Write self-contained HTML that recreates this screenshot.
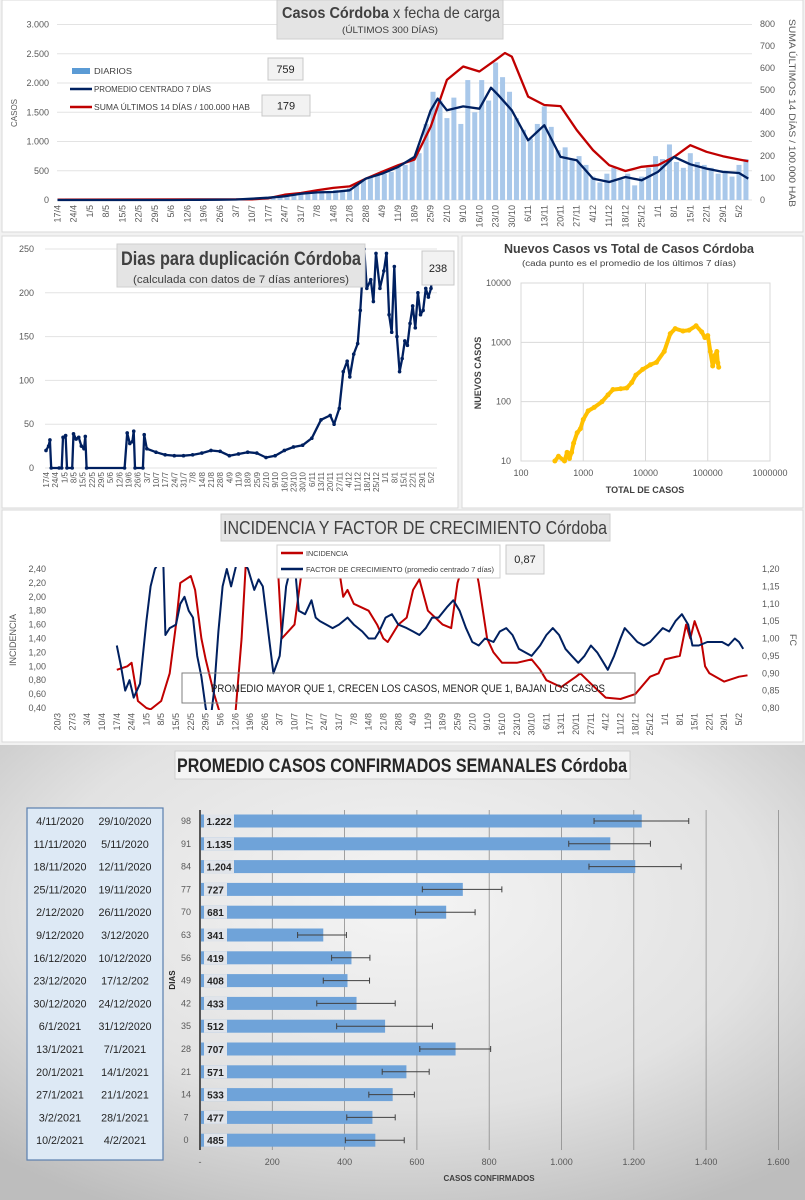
<!DOCTYPE html>
<html><head><meta charset="utf-8">
<style>
html,body{margin:0;padding:0;background:#f2f2f2;}
svg{display:block;font-family:"Liberation Sans Narrow","Liberation Sans",sans-serif;}
</style></head>
<body>
<svg id="root" width="805" height="1200" viewBox="0 0 805 1200" xmlns="http://www.w3.org/2000/svg">
<defs>
<radialGradient id="bg4" cx="50%" cy="35%" r="75%">
<stop offset="0" stop-color="#f4f4f4"/><stop offset="0.6" stop-color="#e2e2e2"/><stop offset="1" stop-color="#bdbdbd"/>
</radialGradient>
<clipPath id="clip1"><rect x="55" y="20" width="700" height="182"/></clipPath>
<clipPath id="clip2"><rect x="40" y="247" width="400" height="223"/></clipPath>
<clipPath id="clip3"><rect x="55" y="567" width="700" height="143"/></clipPath>
</defs>
<rect x="2" y="0" width="801" height="232" fill="#ffffff" stroke="#d9d9d9"/>
<rect x="2" y="236" width="456" height="272" fill="#ffffff" stroke="#d9d9d9"/>
<rect x="462" y="236" width="341" height="272" fill="#ffffff" stroke="#d9d9d9"/>
<rect x="2" y="510" width="801" height="232" fill="#ffffff" stroke="#d9d9d9"/>
<rect x="0" y="745" width="805" height="455" fill="url(#bg4)"/>

<g id="g1"></g><g id="g2"></g><g id="g2b"></g><g id="g3"></g><g id="g4"></g>
</svg>
<script>
// ===== Chart 1 data =====
const c1LeftTicks=[0,500,1000,1500,2000,2500,3000];
const c1LeftTickLabels=["0","500","1.000","1.500","2.000","2.500","3.000"];
const c1RightTicks=[0,100,200,300,400,500,600,700,800];
const c1BarValues=[0,0,0,0,0,0,0,0,0,0,0,0,0,0,0,0,0,0,0,0,0,0,0,0,0,0,10,15,25,30,45,50,70,60,90,110,100,140,160,130,170,150,200,280,340,380,420,450,480,560,600,720,800,1300,1850,1700,1400,1750,1300,2050,1500,2050,1700,2350,2100,1850,1400,1200,1050,1300,1600,1250,850,900,700,750,600,400,300,450,550,350,450,250,400,550,750,700,950,650,550,800,650,600,550,450,500,400,600,700];
const c1AvgDays=[0,7,14,21,28,35,42,49,56,63,70,77,84,91,98,105,112,119,126,133,140,147,154,161,164,168,175,182,187,190,196,203,210,217,224,231,238,245,252,259,266,273,280,287,294,298];
const c1AvgValues=[0,0,0,0,0,0,0,0,2,3,5,8,23,40,63,108,130,137,165,365,450,565,736,1534,1734,1534,1600,1560,1920,1800,1534,1020,1278,736,680,365,308,394,336,480,736,610,536,480,462,365];
const c1SumDays=[0,84,91,98,105,112,119,126,133,140,147,154,161,168,175,182,189,193,196,203,210,217,224,231,238,245,252,259,266,273,280,287,294,298];
const c1SumValues=[2,3,8,24,32,44,55,62,97,128,158,184,333,546,607,584,637,668,652,470,432,427,318,227,158,132,151,158,196,249,219,199,184,176];

// ===== Chart 2 data =====
const c2Ticks=[0,50,100,150,200,250];
const c2Days=[0,2,3,4,10,12,13,15,16,20,21,23,25,27,29,30,31,60,62,64,66,67,68,74,75,77,84,91,98,105,112,119,126,133,140,147,154,161,168,175,182,189,196,203,210,217,220,224,227,230,232,235,238,240,243,245,248,250,252,255,258,260,262,264,266,268,270,272,274,276,278,280,282,284,286,288,290,292,294,296];
const c2Values=[20,25,32,0,0,0,35,37,0,0,39,33,35,25,22,36,0,0,40,28,30,42,0,0,38,22,18,15,14,14,15,17,20,19,14,16,18,17,12,14,20,24,26,34,55,60,50,68,110,122,104,130,142,180,250,205,215,190,245,205,225,245,175,155,230,150,110,125,145,140,165,185,160,200,175,180,205,195,205,238];

// ===== Scatter data =====
const c2bTotal=[350,400,500,550,600,650,700,800,900,1000,1200,1500,2000,2500,3000,4000,5000,6000,7000,9000,12000,15000,20000,25000,30000,40000,50000,65000,80000,90000,100000,110000,120000,130000,140000,145000,150000];
const c2bNew=[10,12,10,14,11,14,20,30,35,50,70,80,100,130,160,165,170,210,280,350,420,460,700,1400,1700,1550,1600,1900,1500,1200,1300,700,400,600,700,450,380];
const c2bXTicks=[100,1000,10000,100000,1000000];
const c2bYTicks=[10,100,1000,10000];

// ===== Chart 3 data =====
const c3LeftTicks=[0.4,0.6,0.8,1.0,1.2,1.4,1.6,1.8,2.0,2.2,2.4];
const c3RightTicks=[0.80,0.85,0.90,0.95,1.00,1.05,1.10,1.15,1.20];
const c3IncDays=[28,33,35,38,42,44,49,53,56,58,63,65,68,70,74,77,84,87,89,95,100,104,106,112,116,130,133,135,137,140,147,151,154,156,161,165,168,171,175,182,186,189,192,197,199,203,206,210,217,224,228,231,238,245,247,252,259,266,273,280,284,287,294,297,299,301,304,306,308,315,322,326];
const c3IncValues=[0.95,1.0,1.05,0.5,0.4,0.38,0.5,0.9,1.6,2.2,2.3,2.1,1.4,1.1,0.6,0.3,0.3,1.4,2.5,2.6,2.6,2.5,1.4,1.6,2.5,2.5,2.4,2.0,2.1,1.9,1.8,1.6,1.4,1.35,1.6,1.7,2.1,2.25,1.8,1.6,1.55,2.2,2.5,2.5,2.2,1.4,1.2,1.05,1.05,1.1,0.95,0.8,0.7,0.85,0.9,0.75,0.55,0.53,0.6,0.85,0.9,1.1,1.15,1.6,1.4,1.65,1.4,1.0,0.9,0.78,0.85,0.87];
const c3FcDays=[28,30,32,34,36,39,42,44,46,47,50,51,53,56,58,60,62,64,66,68,70,72,74,76,78,80,82,84,86,88,90,93,95,97,100,102,105,108,110,112,114,117,120,122,124,127,130,133,137,140,144,147,150,152,155,158,161,165,168,171,174,177,180,184,187,190,193,196,199,202,206,209,212,215,218,221,224,228,231,234,237,240,243,246,249,252,255,258,260,263,266,268,271,274,277,280,283,286,289,292,295,298,300,303,307,311,314,317,320,322,324];
const c3FcValues=[0.98,0.92,0.85,0.88,0.83,0.87,1.05,1.15,1.2,1.21,1.22,1.01,1.03,1.04,1.1,1.12,1.08,1.06,0.95,0.89,0.8,0.75,0.85,1.02,1.15,1.2,1.15,1.2,1.25,1.22,1.2,1.14,1.17,1.15,1.0,0.9,0.95,1.15,1.2,1.22,1.08,1.07,1.11,1.06,1.05,1.04,1.03,1.04,1.06,1.04,1.02,1.0,1.0,1.02,1.06,1.07,1.04,1.03,1.02,1.01,1.03,1.06,1.06,1.09,1.11,1.08,1.03,0.99,0.98,1.0,0.99,1.02,1.03,1.01,0.97,0.96,0.95,0.98,1.01,1.03,1.01,0.97,0.95,0.93,0.95,0.98,0.96,0.93,0.91,0.95,1.0,1.03,1.01,0.99,0.98,0.99,1.01,1.03,1.02,1.05,1.07,1.04,0.98,0.98,0.99,0.99,0.99,0.98,1.0,0.99,0.97];

// ===== Chart 4 data =====
const c4Col1=["4/11/2020","11/11/2020","18/11/2020","25/11/2020","2/12/2020","9/12/2020","16/12/2020","23/12/2020","30/12/2020","6/1/2021","13/1/2021","20/1/2021","27/1/2021","3/2/2021","10/2/2021"];
const c4Col2=["29/10/2020","5/11/2020","12/11/2020","19/11/2020","26/11/2020","3/12/2020","10/12/2020","17/12/202","24/12/2020","31/12/2020","7/1/2021","14/1/2021","21/1/2021","28/1/2021","4/2/2021"];
const c4Days=[98,91,84,77,70,63,56,49,42,35,28,21,14,7,0];
const c4Values=[1222,1135,1204,727,681,341,419,408,433,512,707,571,533,477,485];
const c4ErrLow=[1090,1020,1076,615,596,270,364,341,323,378,608,504,467,406,402];
const c4ErrHigh=[1352,1246,1331,835,761,405,470,469,540,643,804,634,593,540,565];
const c4Ticks=[0,200,400,600,800,1000,1200,1400,1600];
const c4TickLabels=["-","200","400","600","800","1.000","1.200","1.400","1.600"];

const NS="http://www.w3.org/2000/svg";
function mk(tag,attrs,parent,text){const e=document.createElementNS(NS,tag);for(const k in attrs)e.setAttribute(k,attrs[k]);if(text!==undefined)e.textContent=text;parent.appendChild(e);return e;}
function fit(e,w){e.setAttribute('textLength',w);e.setAttribute('lengthAdjust','spacingAndGlyphs');}
function dateLabel(start,d){const t=new Date(start.getTime()+d*86400000);return t.getUTCDate()+"/"+(t.getUTCMonth()+1);}
function pts(xs,ys,fx,fy){return xs.map((x,i)=>fx(x).toFixed(1)+","+fy(ys[i]).toFixed(1)).join(" ");}

// ================= CHART 1 =================
(function(){
const g=document.getElementById('g1');
const x=d=>57.5+d*2.318, yL=v=>200-v*(175.5/3000), yR=v=>200-v*(176/800);
c1LeftTicks.forEach((t,i)=>{
 const l=mk('line',{x1:57,x2:752,y1:yL(t),y2:yL(t),stroke:'#e3e3e3','stroke-width':1},g);
 
 
 const tx=mk('text',{x:49,y:yL(t)+3,'font-size':9,fill:'#595959','text-anchor':'end'},g,c1LeftTickLabels[i]);
 
 
});
c1RightTicks.forEach(t=>{
 const tx=mk('text',{x:760,y:yR(t)+3,'font-size':9,fill:'#595959'},g,String(t));
 
 
});
const start=new Date(Date.UTC(2020,3,17));
for(let i=0;i<=42;i++){
 const d=i*7;
 const tx=mk('text',{x:0,y:0,'font-size':9,fill:'#595959','text-anchor':'end',transform:`translate(${x(d)+3},205) rotate(-90)`},g,dateLabel(start,d));
 
 
}
const cg=mk('g',{'clip-path':'url(#clip1)'},g);
c1BarValues.forEach((v,i)=>{
 if(v<=0)return;
 const b=mk('rect',{x:x(i*3)-2.5,y:yL(v),width:5,height:200-yL(v),fill:'#a9c8ea'},cg);
 
 
});
const red=mk('polyline',{points:pts(c1SumDays,c1SumValues,x,yR),fill:'none',stroke:'#c00000','stroke-width':2.3,'stroke-linejoin':'round'},cg);


const nav=mk('polyline',{points:pts(c1AvgDays,c1AvgValues,x,yL),fill:'none',stroke:'#002060','stroke-width':2.3,'stroke-linejoin':'round'},cg);



const tb=mk('rect',{x:277,y:0,width:226,height:39,fill:'#e4e4e4',stroke:'#cfcfcf'},g);


const t=mk('text',{x:282,y:18,'font-size':16,fill:'#404040'},g);


mk('tspan',{'font-weight':'bold'},t,'Casos  Córdoba');
mk('tspan',{},t,'  x fecha  de carga');
fit(t,218);
const st=mk('text',{x:390,y:33,'font-size':9,fill:'#404040','text-anchor':'middle'},g,'(ÚLTIMOS 300 DÍAS)');


fit(st,96);
const items=[['DIARIOS',71,'bar',38],['PROMEDIO CENTRADO 7 DÍAS',89,'#002060',117],['SUMA ÚLTIMOS 14 DÍAS / 100.000 HAB',107,'#c00000',156]];
items.forEach(it=>{
 let s;
 if(it[2]==='bar') s=mk('rect',{x:72,y:it[1]-3,width:18,height:6,fill:'#5b9bd5'},g);
 else s=mk('line',{x1:70,x2:92,y1:it[1],y2:it[1],stroke:it[2],'stroke-width':2.5},g);
 
 
 const tx=mk('text',{x:94,y:it[1]+3,'font-size':8,fill:'#404040'},g,it[0]);
 
 
 fit(tx,it[3]);
});
[[268,58,35,22,'759'],[262,95,48,21,'179']].forEach(b=>{
 const r=mk('rect',{x:b[0],y:b[1],width:b[2],height:b[3],fill:'#f2f2f2',stroke:'#c8c8c8'},g);
 
 
 const tx=mk('text',{x:b[0]+b[2]/2,y:b[1]+b[3]/2+4,'font-size':11,fill:'#222','text-anchor':'middle'},g,b[4]);
 
 
});
const ya=mk('text',{x:0,y:0,'font-size':8,fill:'#595959','text-anchor':'middle',transform:'translate(17,113) rotate(-90)'},g,'CASOS');


const yr=mk('text',{x:0,y:0,'font-size':9,fill:'#595959','text-anchor':'middle',transform:'translate(789,113) rotate(90)'},g,'SUMA  ÚLTIMOS 14 DÍAS / 100.000 HAB');


fit(yr,188);
})();

// ================= CHART 2 (doubling) =================
(function(){
const g=document.getElementById('g2');
const x=d=>46+d*1.3095, y=v=>468-Math.min(v,250)*(219/250);
c2Ticks.forEach(t=>{
 const l=mk('line',{x1:45,x2:437,y1:y(t),y2:y(t),stroke:'#e3e3e3'},g);
 
 
 const tx=mk('text',{x:34,y:y(t)+3,'font-size':9,fill:'#595959','text-anchor':'end'},g,String(t));
 
 
});
const start=new Date(Date.UTC(2020,3,17));
for(let i=0;i<=42;i++){
 const d=i*7;
 const tx=mk('text',{x:0,y:0,'font-size':8,fill:'#595959','text-anchor':'end',transform:`translate(${x(d)+3},472) rotate(-90)`},g,dateLabel(start,d));
 
 
}
const cg=mk('g',{'clip-path':'url(#clip2)'},g);
const ln=mk('polyline',{points:pts(c2Days,c2Values,x,y),fill:'none',stroke:'#002060','stroke-width':2.3,'stroke-linejoin':'round'},cg);


c2Days.forEach((d,i)=>{
 const c=mk('circle',{cx:x(d),cy:y(c2Values[i]),r:1.8,fill:'#002060'},cg);
 
 
});
const tb=mk('rect',{x:117,y:244,width:248,height:43,fill:'#e4e4e4',stroke:'#cfcfcf'},g);


const t=mk('text',{x:241,y:265,'font-size':19,'font-weight':'bold',fill:'#404040','text-anchor':'middle'},g,'Dias para duplicación Córdoba');


fit(t,240);
const st=mk('text',{x:241,y:283,'font-size':11,fill:'#404040','text-anchor':'middle'},g,'(calculada con datos de 7 días anteriores)');


fit(st,216);
const vb=mk('rect',{x:422,y:251,width:32,height:34,fill:'#f2f2f2',stroke:'#c8c8c8'},g);


const vt=mk('text',{x:438,y:272,'font-size':11,fill:'#222','text-anchor':'middle'},g,'238');


})();

// ================= SCATTER =================
(function(){
const g=document.getElementById('g2b');
const x=v=>521+(Math.log10(v)-2)*62.25, y=v=>461-(Math.log10(v)-1)*59.33;
const box=mk('rect',{x:521,y:283,width:249,height:178,fill:'none',stroke:'#d9d9d9'},g);


c2bXTicks.forEach(t=>{
 const l=mk('line',{x1:x(t),x2:x(t),y1:283,y2:461,stroke:'#d9d9d9'},g);
 
 
 const tx=mk('text',{x:x(t),y:476,'font-size':9,fill:'#595959','text-anchor':'middle'},g,String(t));
 
 
});
c2bYTicks.forEach(t=>{
 const l=mk('line',{x1:521,x2:770,y1:y(t),y2:y(t),stroke:'#d9d9d9'},g);
 
 
 const tx=mk('text',{x:511,y:y(t)+3,'font-size':9,fill:'#595959','text-anchor':'end'},g,String(t));
 
 
});
const ln=mk('polyline',{points:pts(c2bTotal,c2bNew,x,y),fill:'none',stroke:'#ffc000','stroke-width':4,'stroke-linejoin':'round','stroke-linecap':'round'},g);


c2bTotal.forEach((v,i)=>{
 const c=mk('circle',{cx:x(v),cy:y(c2bNew[i]),r:2.5,fill:'#ffc000'},g);
 
 
});
const t=mk('text',{x:629,y:253,'font-size':13,'font-weight':'bold',fill:'#404040','text-anchor':'middle'},g,'Nuevos Casos vs Total de Casos Córdoba');


fit(t,250);
const st=mk('text',{x:629,y:266,'font-size':8,fill:'#404040','text-anchor':'middle'},g,'(cada punto es el promedio de los últimos 7 días)');


fit(st,214);
const xt=mk('text',{x:645,y:493,'font-size':9,'font-weight':'bold',fill:'#404040','text-anchor':'middle'},g,'TOTAL DE CASOS');


const yt=mk('text',{x:0,y:0,'font-size':9,'font-weight':'bold',fill:'#404040','text-anchor':'middle',transform:'translate(481,373) rotate(-90)'},g,'NUEVOS  CASOS');


})();

// ================= CHART 3 =================
(function(){
const g=document.getElementById('g3');
const x=d=>57.5+d*2.1165, yI=v=>569+(2.4-v)*(139/2), yF=v=>569+(1.2-v)*(139/0.4);
c3LeftTicks.forEach(t=>{
 const tx=mk('text',{x:46,y:yI(t)+3,'font-size':9,fill:'#595959','text-anchor':'end'},g,t.toFixed(2).replace('.',','));
 
 
});
c3RightTicks.forEach(t=>{
 const tx=mk('text',{x:762,y:yF(t)+3,'font-size':9,fill:'#595959'},g,t.toFixed(2).replace('.',','));
 
 
});
const start=new Date(Date.UTC(2020,2,20));
for(let i=0;i<=46;i++){
 const d=i*7;
 const tx=mk('text',{x:0,y:0,'font-size':9,fill:'#595959','text-anchor':'end',transform:`translate(${x(d)+3},713) rotate(-90)`},g,dateLabel(start,d));
 
 
}
const cg=mk('g',{'clip-path':'url(#clip3)'},g);
const red=mk('polyline',{points:pts(c3IncDays,c3IncValues,x,yI),fill:'none',stroke:'#c00000','stroke-width':2,'stroke-linejoin':'round'},cg);


const nav=mk('polyline',{points:pts(c3FcDays,c3FcValues,x,yF),fill:'none',stroke:'#002060','stroke-width':2,'stroke-linejoin':'round'},cg);


const tb=mk('rect',{x:221,y:514,width:389,height:27,fill:'#e4e4e4',stroke:'#cfcfcf'},g);


const t=mk('text',{x:415,y:534,'font-size':18,fill:'#404040','text-anchor':'middle'},g,'INCIDENCIA Y FACTOR DE CRECIMIENTO Córdoba');


fit(t,384);
const lb=mk('rect',{x:277,y:545,width:223,height:33,fill:'#ffffff',stroke:'#d0d0d0'},g);


[['INCIDENCIA',553,'#c00000',42],['FACTOR DE CRECIMIENTO (promedio centrado 7 días)',569,'#002060',188]].forEach(it=>{
 const s=mk('line',{x1:281,x2:303,y1:it[1],y2:it[1],stroke:it[2],'stroke-width':2.5},g);
 
 
 const tx=mk('text',{x:306,y:it[1]+3,'font-size':7,fill:'#404040'},g,it[0]);
 
 
 fit(tx,it[3]);
});
const vb=mk('rect',{x:506,y:545,width:38,height:29,fill:'#f2f2f2',stroke:'#c8c8c8'},g);


const vt=mk('text',{x:525,y:563,'font-size':11,fill:'#222','text-anchor':'middle'},g,'0,87');


const ab=mk('rect',{x:182,y:673,width:453,height:30,fill:'none',stroke:'#7f7f7f'},g);


const at=mk('text',{x:408,y:692,'font-size':11,fill:'#222','text-anchor':'middle'},g,'PROMEDIO MAYOR QUE 1, CRECEN LOS CASOS, MENOR QUE 1, BAJAN LOS CASOS');


fit(at,394);
const yl=mk('text',{x:0,y:0,'font-size':9,fill:'#595959','text-anchor':'middle',transform:'translate(16,640) rotate(-90)'},g,'INCIDENCIA');


const yr=mk('text',{x:0,y:0,'font-size':9,fill:'#595959','text-anchor':'middle',transform:'translate(790,640) rotate(90)'},g,'FC');


})();

// ================= CHART 4 =================
(function(){
const g=document.getElementById('g4');
const x=v=>200+v*0.3615, y=i=>821+i*22.8;
const tb=mk('rect',{x:175,y:751,width:455,height:28,fill:'#f4f4f4',stroke:'#cfcfcf'},g);


const t=mk('text',{x:402,y:772,'font-size':19,'font-weight':'bold',fill:'#262626','text-anchor':'middle'},g,'PROMEDIO CASOS CONFIRMADOS SEMANALES Córdoba');


fit(t,450);
const lb=mk('rect',{x:27,y:808,width:136,height:352,fill:'#dde9f5',stroke:'#5b7fae','stroke-width':1.2},g);


c4Ticks.forEach((tk,i)=>{
 if(i>0){const l=mk('line',{x1:x(tk),x2:x(tk),y1:810,y2:1150,stroke:'#8c8c8c','stroke-width':0.8},g);
 
 }
 const tx=mk('text',{x:x(tk),y:1165,'font-size':9,fill:'#595959','text-anchor':'middle'},g,c4TickLabels[i]);
 
 
});
const ax=mk('line',{x1:200,x2:200,y1:810,y2:1150,stroke:'#262626','stroke-width':1.5},g);


c4Values.forEach((v,i)=>{
 const c1=mk('text',{x:60,y:y(i)+4,'font-size':11,fill:'#262626','text-anchor':'middle'},g,c4Col1[i]);
 
 
 fit(c1,c4Col1[i].length*5.3);
 const c2=mk('text',{x:125,y:y(i)+4,'font-size':11,fill:'#262626','text-anchor':'middle'},g,c4Col2[i]);
 
 
 fit(c2,c4Col2[i].length*5.3);
 const dl=mk('text',{x:186,y:y(i)+3,'font-size':9,fill:'#595959','text-anchor':'middle'},g,String(c4Days[i]));
 
 
 const b=mk('rect',{x:x(0)+1,y:y(i)-6.5,width:x(v)-x(0)-1,height:13,fill:'#6fa3d9'},g);
 
 
 const w=v>=1000?30:23;
 const lb2=mk('rect',{x:204,y:y(i)-6.5,width:w,height:13,fill:'#e0e4ea'},g);
 
 
 const vt=mk('text',{x:204+w/2,y:y(i)+4,'font-size':10,'font-weight':'bold',fill:'#222','text-anchor':'middle'},g,v>=1000?(Math.floor(v/1000)+'.'+String(v%1000).padStart(3,'0')):String(v));
 
 
 const e=mk('path',{d:`M${x(c4ErrLow[i])},${y(i)} H${x(c4ErrHigh[i])} M${x(c4ErrLow[i])},${y(i)-3} V${y(i)+3} M${x(c4ErrHigh[i])},${y(i)-3} V${y(i)+3}`,stroke:'#404040','stroke-width':1,fill:'none'},g);
 
 
});
const xt=mk('text',{x:489,y:1181,'font-size':8,'font-weight':'bold',fill:'#404040','text-anchor':'middle'},g,'CASOS CONFIRMADOS');


const yt=mk('text',{x:0,y:0,'font-size':8,'font-weight':'bold',fill:'#262626','text-anchor':'middle',transform:'translate(175,980) rotate(-90)'},g,'DIAS');


})();
</script>
</body></html>
